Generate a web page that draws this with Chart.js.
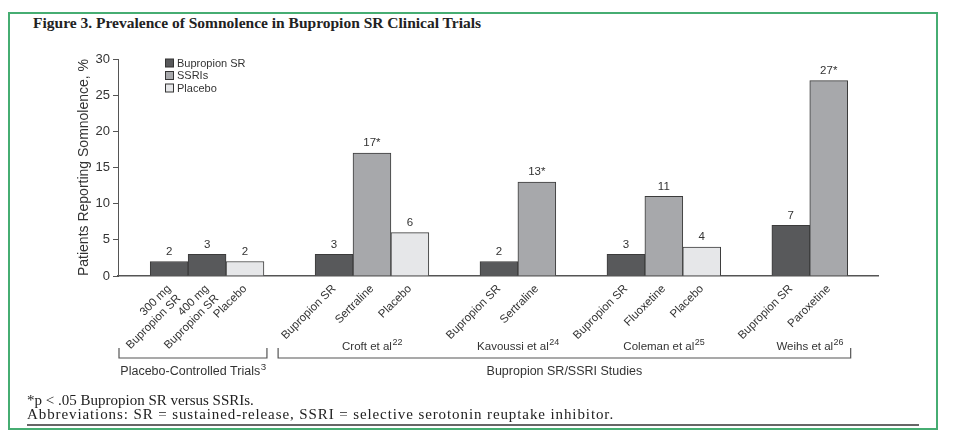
<!DOCTYPE html>
<html><head><meta charset="utf-8">
<script src="https://cdn.jsdelivr.net/npm/chart.js@4.4.1/dist/chart.umd.min.js"></script>
<style>
html,body{margin:0;padding:0;background:#fff;}
#wrap{position:relative;width:955px;height:438px;overflow:hidden;background:#fff;}
#frame{position:absolute;left:8px;top:12px;width:926px;height:414px;border:2px solid #46ad72;}
#title{position:absolute;left:33px;top:13px;font:bold 15.5px "Liberation Serif","Times New Roman",serif;color:#222;white-space:nowrap;line-height:20px;}
#notes{position:absolute;left:27px;top:394px;font:15px "Liberation Serif","Times New Roman",serif;color:#222;line-height:13.5px;white-space:nowrap;}
#notes .l2{letter-spacing:0.9px;}
#rule{position:absolute;left:27px;top:424px;width:892px;height:1.5px;background:#666;}
canvas{position:absolute;left:0;top:0;}
</style></head>
<body><div id="wrap">
<div id="frame"></div>
<div id="title">Figure 3. Prevalence of Somnolence in Bupropion SR Clinical Trials</div>
<canvas id="c" width="955" height="438"></canvas>
<div id="notes">*p &lt; .05 Bupropion SR versus SSRIs.<br><span class="l2">Abbreviations: SR = sustained-release, SSRI = selective serotonin reuptake inhibitor.</span></div>
<div id="rule"></div>
</div>
<script>
// ---- data ----
const categories = [['300 mg','Bupropion SR'], ['400 mg','Bupropion SR'], 'Placebo',
  'Bupropion SR','Sertraline','Placebo',
  'Bupropion SR','Sertraline',
  'Bupropion SR','Fluoxetine','Placebo',
  'Bupropion SR','Paroxetine'];
const barSeries = ['Bupropion SR','Bupropion SR','Placebo',
  'Bupropion SR','SSRIs','Placebo',
  'Bupropion SR','SSRIs',
  'Bupropion SR','SSRIs','Placebo',
  'Bupropion SR','SSRIs'];
const barStudy = [0,0,0,1,1,1,2,2,3,3,3,4,4];
const values = [2,3,2,3,17,6,2,13,3,11,4,7,27];
const valueLabels = ['2','3','2','3','17*','6','2','13*','3','11','4','7','27*'];
const seriesNames = ['Bupropion SR','SSRIs','Placebo'];
const studyNames = ['', 'Croft et al', 'Kavoussi et al', 'Coleman et al', 'Weihs et al'];
const studyRefs = ['', '22', '24', '25', '26'];
const sectionNames = ['Placebo-Controlled Trials', 'Bupropion SR/SSRI Studies'];
const sectionRefs = ['3', ''];
const sectionStudies = [[0],[1,2,3,4]];
const yTicks = [0,5,10,15,20,25,30];
const yTitle = 'Patients Reporting Somnolence, %';

// ---- layout / style ----
const FF = '"Liberation Sans", Arial, Helvetica, sans-serif';
const colors = {'Bupropion SR':'#58595b','SSRIs':'#a7a8ab','Placebo':'#e6e7e9'};
const LEAD = 0.85, GAP = 1.35, TRAIL = 0.8;
const centers = []; let pos = LEAD;
categories.forEach((c,i)=>{ if(i>0 && barStudy[i]!==barStudy[i-1]) pos += GAP; centers.push(pos+0.5); pos += 1; });
const xMax = pos + TRAIL;

const datasets = seriesNames.map(s=>({
  label:s,
  data: values.map((v,i)=>barSeries[i]===s?{x:centers[i],y:v,i:i}:null).filter(Boolean),
  backgroundColor: colors[s], borderColor:'#3b3b3b', borderWidth:1,
  grouped:false, barPercentage:1, categoryPercentage:1
}));

function drawSup(ctx, main, sup, cx, cy, size){
  ctx.font = size+'px '+FF; const w1 = ctx.measureText(main).width;
  ctx.font = (size*0.78)+'px '+FF; const w2 = sup ? ctx.measureText(sup).width : 0;
  const x0 = cx-(w1+w2)/2;
  ctx.textAlign='left'; ctx.textBaseline='middle';
  ctx.font = size+'px '+FF; ctx.fillText(main,x0,cy);
  if(sup){ ctx.font=(size*0.78)+'px '+FF; ctx.fillText(sup,x0+w1+0.5,cy-size*0.35); }
}

const extras = {
  id:'extras',
  afterDatasetsDraw(chart){
    const ctx = chart.ctx; ctx.save();
    ctx.font = '11.5px '+FF; ctx.fillStyle='#333'; ctx.textAlign='center'; ctx.textBaseline='bottom';
    chart.data.datasets.forEach((ds,di)=>{
      chart.getDatasetMeta(di).data.forEach((el,j)=>{ ctx.fillText(valueLabels[ds.data[j].i], el.x, el.y-4); });
    });
    // legend
    const a = chart.chartArea;
    seriesNames.forEach((s,k)=>{
      const y = a.top + 4 + k*12.5;
      ctx.fillStyle = colors[s]; ctx.fillRect(a.left+47.5, y-4, 8, 8);
      ctx.strokeStyle='#333'; ctx.lineWidth=1; ctx.strokeRect(a.left+47.5, y-4, 8, 8);
      ctx.fillStyle='#333'; ctx.textAlign='left'; ctx.textBaseline='middle'; ctx.font='11px '+FF;
      ctx.fillText(s, a.left+59, y+0.5);
    });
    ctx.restore();
  },
  afterDraw(chart){
    const ctx = chart.ctx, xs = chart.scales.x, b = chart.chartArea.bottom;
    ctx.save(); ctx.strokeStyle='#555'; ctx.lineWidth=1.2; ctx.fillStyle='#333';
    const left = i=>xs.getPixelForValue(centers[i]-0.5), right = i=>xs.getPixelForValue(centers[i]+0.5);
    const first = st=>barStudy.indexOf(st), last = st=>barStudy.lastIndexOf(st);
    studyNames.forEach((n,st)=>{ if(!n) return;
      const cx=(left(first(st))+right(last(st)))/2; drawSup(ctx,n,studyRefs[st],cx,b+71,11.5); });
    sectionNames.forEach((n,k)=>{
      const sts = sectionStudies[k];
      const x1 = k===0 ? xs.getPixelForValue(0)+1 : left(first(sts[0]))-37;
      const x2 = right(last(sts[sts.length-1]))+3;
      ctx.beginPath(); ctx.moveTo(x1,b+72); ctx.lineTo(x1,b+82); ctx.lineTo(x2,b+82); ctx.lineTo(x2,b+72); ctx.stroke();
      drawSup(ctx,n,sectionRefs[k],(x1+x2)/2,b+96,12.5);
    });
    ctx.restore();
  }
};

Chart.defaults.font.family = FF;
new Chart(document.getElementById('c'), {
  type:'bar',
  data:{ datasets },
  options:{
    responsive:false, animation:false, devicePixelRatio:1,
    layout:{ padding:{left:76,right:77,top:59,bottom:62} },
    plugins:{ legend:{display:false}, tooltip:{enabled:false}, title:{display:false} },
    scales:{
      x:{ type:'linear', min:0, max:xMax, offset:false,
        grid:{display:false, drawTicks:false}, border:{display:true,color:'#555',width:1.5},
        afterBuildTicks:s=>{ s.ticks = centers.map(v=>({value:v})); },
        afterFit:s=>{ s.height = 100; },
        ticks:{ autoSkip:false, minRotation:45, maxRotation:45, padding:6, color:'#333', font:{size:11.5,family:FF},
          callback:(v)=>{ const i = centers.findIndex(c=>Math.abs(c-v)<1e-6); return i>=0?categories[i]:''; } } },
      y:{ min:0, max:30,
        afterBuildTicks:s=>{ s.ticks = yTicks.map(v=>({value:v})); },
        afterFit:s=>{ s.width = 42; },
        grid:{ drawOnChartArea:false, drawTicks:true, tickLength:5, color:'#555' },
        border:{ color:'#555', width:1 },
        ticks:{ padding:3, color:'#333', font:{size:13,family:FF} },
        title:{ display:true, text:yTitle, color:'#333', font:{size:14,family:FF}, padding:0 } }
    }
  },
  plugins:[extras]
});
</script>
</body></html>
